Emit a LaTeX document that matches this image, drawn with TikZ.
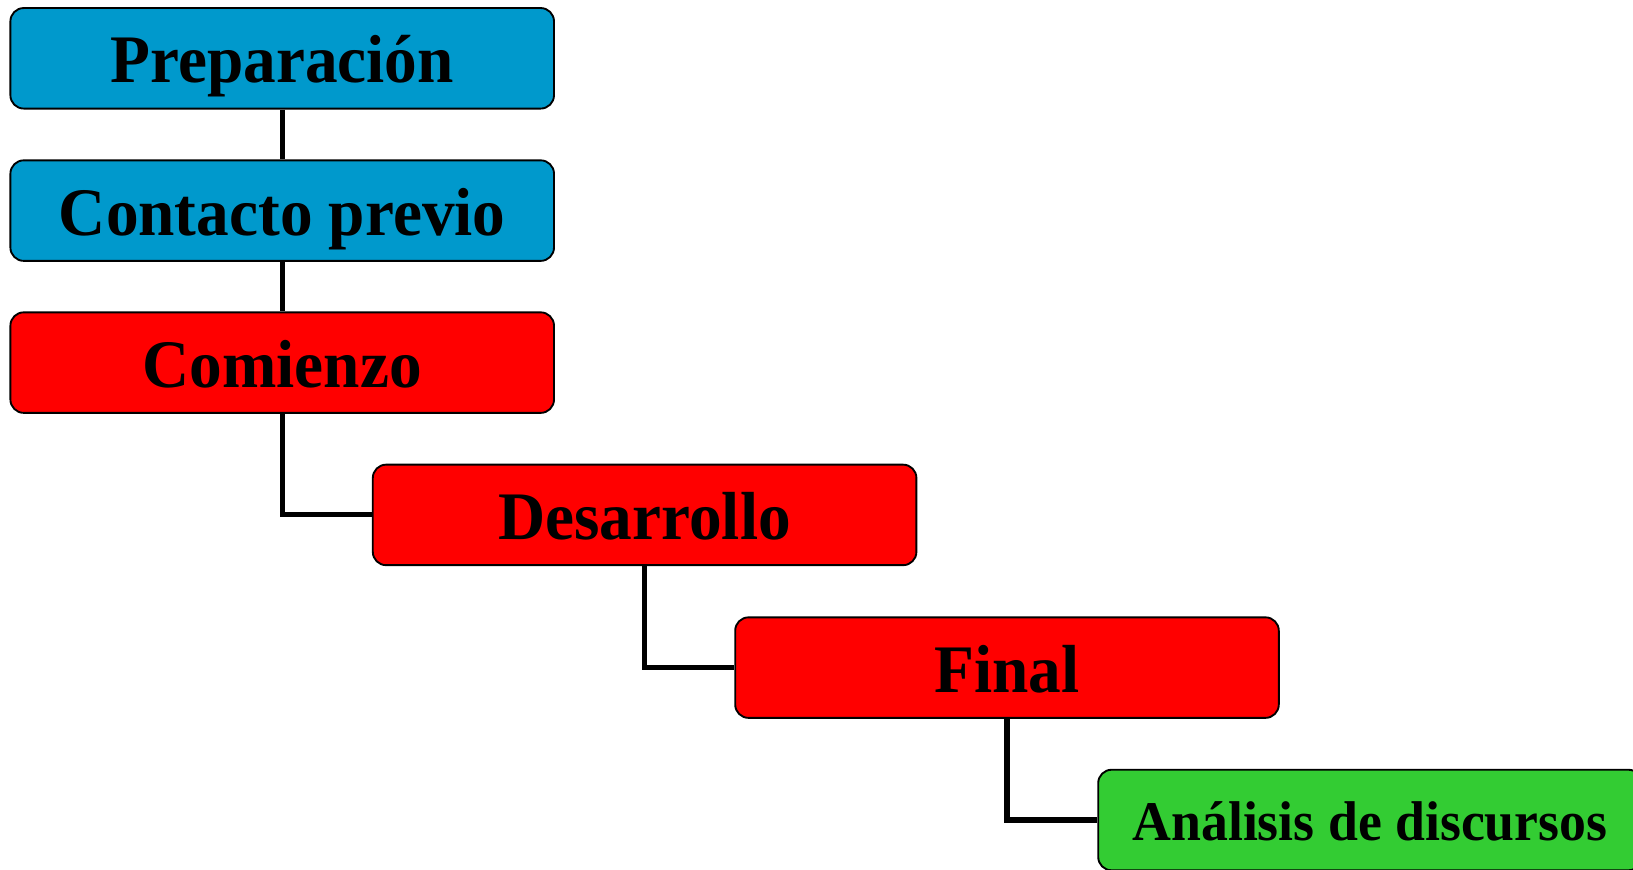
\documentclass[tikz,border=0pt]{standalone}
\usepackage{fontspec}
\setmainfont{Liberation Serif}[FakeStretch=0.96]
\definecolor{blueC}{RGB}{0,153,204}
\definecolor{redC}{RGB}{255,0,0}
\definecolor{greenC}{RGB}{51,204,51}
\begin{document}
\begin{tikzpicture}[x=0.75pt,y=-0.75pt,
  box/.style={draw=black, line width=1.4pt, rounded corners=10pt,
    minimum width=407.7pt, minimum height=75.4pt, inner sep=0pt,
    text height=37pt, text depth=0pt,
    font=\fontsize{51}{60}\selectfont\bfseries, text=black},
  smalltext/.style={font=\fontsize{42}{50}\selectfont\bfseries, text height=30pt},
  link/.style={draw=black, line width=3.8pt}]
\useasboundingbox (0,0) rectangle (1633,869);
\node[box, fill=blueC] (prep) at (282.2,58.3) {Preparación};
\node[box, fill=blueC] (cont) at (282.2,210.6) {Contacto previo};
\node[box, fill=redC] (com) at (282.2,362.6) {Comienzo};
\node[box, fill=redC] (des) at (644.6,514.9) {Desarrollo};
\node[box, fill=redC] (fin) at (1007,667.6) {Final};
\node[box, fill=greenC, smalltext] (ana) at (1370,820) {Análisis de discursos};
\draw[link] (prep.south) -- (cont.north);
\draw[link] (cont.south) -- (com.north);
\draw[link] (com.south) |- (des.west);
\draw[link] (des.south) |- (fin.west);
\draw[link] (fin.south) |- (ana.west);
\end{tikzpicture}
\end{document}
